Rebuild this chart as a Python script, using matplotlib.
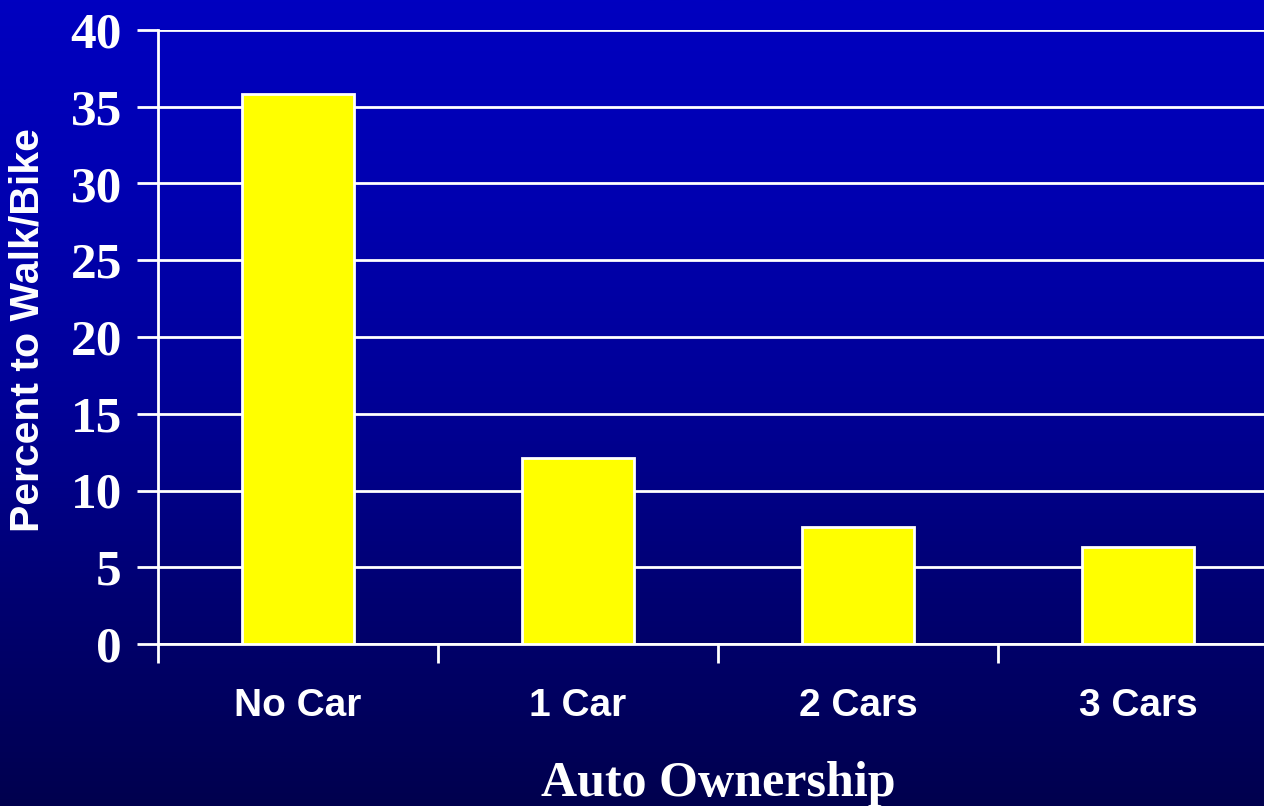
import numpy as np
import matplotlib
matplotlib.use("Agg")
import matplotlib.pyplot as plt
from matplotlib.colors import LinearSegmentedColormap

categories = ["No Car", "1 Car", "2 Cars", "3 Cars"]
values = [35.8, 12.1, 7.6, 6.3]
yticks = [0, 5, 10, 15, 20, 25, 30, 35, 40]

W, H = 1264, 806
fig = plt.figure(figsize=(W / 100, H / 100), dpi=100)

# gradient background
bg = fig.add_axes([0, 0, 1, 1], zorder=-10)
cmap = LinearSegmentedColormap.from_list(
    "bg",
    [(0.0, (0, 0, 192 / 255)), (0.25, (0, 0, 176 / 255)), (0.5, (0, 0, 150 / 255)),
     (0.75, (0, 0, 112 / 255)), (1.0, (0, 0, 78 / 255))])
grad = np.linspace(0, 1, 512).reshape(-1, 1)
bg.imshow(grad, aspect="auto", cmap=cmap, extent=[0, 1, 0, 1], origin="upper")
bg.axis("off")

# axes: x from 158 px to 1278 px (beyond right edge), y 644 -> 30
left = 158 / W
right = 1278 / W
bottom = (H - 644) / H
top = (H - 30) / H
ax = fig.add_axes([left, bottom, right - left, top - bottom])
ax.set_facecolor("none")

x = np.arange(len(categories))
ax.bar(x, values, width=0.4, color="#FFFF00", edgecolor="white", linewidth=2, zorder=3)
ax.set_xlim(-0.5, len(categories) - 0.5)
ax.set_ylim(0, 40)

ax.set_yticks(yticks)
ax.set_yticklabels([str(t) for t in yticks], family="Liberation Serif",
                   fontweight="bold", fontsize=37, color="white")
ax.tick_params(axis="y", direction="out", length=15, width=2, color="white", pad=11)

ax.set_xticks(x)
ax.set_xticklabels(categories, family="Liberation Sans", fontweight="bold",
                   fontsize=28, color="white")
ax.set_xticks(np.arange(len(categories) + 1) - 0.5, minor=True)
ax.tick_params(axis="x", which="major", length=0, pad=32)
ax.tick_params(axis="x", which="minor", direction="out", length=14, width=2, color="white")

ax.yaxis.grid(True, color="white", linewidth=2, zorder=1)
ax.set_axisbelow(True)
for s in ["top", "right"]:
    ax.spines[s].set_visible(False)
ax.spines["left"].set_color("white")
ax.spines["left"].set_linewidth(2)
ax.spines["bottom"].set_color("white")
ax.spines["bottom"].set_linewidth(2)

ax.set_xlabel("Auto Ownership", family="Liberation Serif", fontweight="bold",
              fontsize=36, color="white", labelpad=26)
ax.set_ylabel("Percent to Walk/Bike", family="Liberation Sans", fontweight="bold",
              fontsize=29.5, color="white")
ax.yaxis.set_label_coords(-111 / (1278 - 158), (644 - 330) / 614)

fig.savefig("out.png", dpi=100)
